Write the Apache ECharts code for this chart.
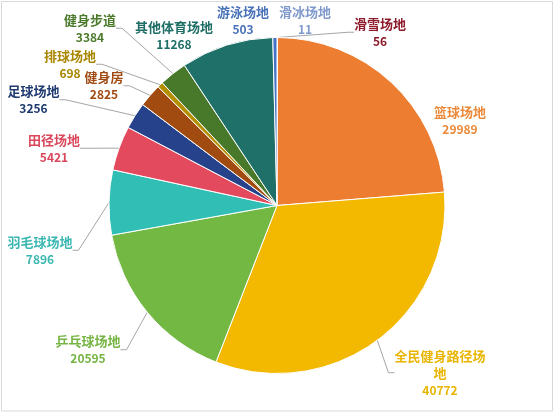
<!DOCTYPE html>
<html>
<head>
<meta charset="utf-8">
<script src="https://cdn.jsdelivr.net/npm/echarts@6/dist/echarts.min.js"></script>
<style>html,body{margin:0;padding:0;background:#fff;}#c{width:555px;height:414px;}</style>
</head>
<body>
<div id="c"></div>
<script>
// ---- data ----
var names = ['滑冰场地','滑雪场地','篮球场地','全民健身路径场地','乒乓球场地','羽毛球场地','田径场地','足球场地','健身房','排球场地','健身步道','其他体育场地','游泳场地'];
var values = [11, 56, 29989, 40772, 20595, 7896, 5421, 3256, 2825, 698, 3384, 11268, 503];

// ---- styling / layout (not data) ----
var sliceColors = ['#5B9BD5','#A5002A','#ED7D31','#F2B900','#74B844','#31BFB5','#E34A5E','#26428B','#A14B10','#B38F00','#48782A','#1E7068','#4472C4'];
var labelColors = ['#7F9ACB','#8E1B2C','#EB8A3A','#E9B500','#76B443','#3BB7B2','#D9485D','#1F3A70','#A04A12','#A88600','#4B7A2A','#1E6E66','#4A72B8'];
var labelPos = [[305,20.5],[380,32.5],[460,121],[440,373],[88,350],[40,250.5],[54,148.5],[33.5,100],[104,86],[70,64.5],[90,28.5],[174,35.5],[243,20.5]];
var showLine = [false,true,false,true,true,true,true,true,true,true,true,false,false];

var data = names.map(function(n, i){
  return {
    name: n,
    value: values[i],
    itemStyle: {color: sliceColors[i]},
    label: {
      rich: {
        n: {color: labelColors[i], fontSize: 13, fontWeight: 'bold', lineHeight: 17, fontFamily: 'Noto Sans CJK SC'},
        v: {color: labelColors[i], fontSize: 12, fontWeight: 'bold', lineHeight: 17, fontFamily: 'Noto Sans CJK SC'}
      }
    },
    labelLine: {show: showLine[i]}
  };
});

var chart = echarts.init(document.getElementById('c'), null, {renderer: 'canvas'});
chart.setOption({
  backgroundColor: '#fff',
  animation: false,
  graphic: [{
    type: 'rect', shape: {x: 1.5, y: 1.5, width: 551, height: 409.5},
    style: {fill: 'none', stroke: '#D9D9D9', lineWidth: 1}, silent: true, z: -1
  }],
  series: [{
    type: 'pie',
    center: [277, 205.5],
    radius: 168,
    startAngle: 90,
    clockwise: true,
    avoidLabelOverlap: false,
    minShowLabelAngle: 0,
    itemStyle: {borderColor: '#fff', borderWidth: 1},
    label: {
      show: true,
      position: 'outside',
      align: 'center',
      padding: [2, 4],
      formatter: function(p){
        var n = p.name.length > 7 ? p.name.slice(0,7) + '\n' + p.name.slice(7) : p.name;
        return '{n|' + n.split('\n').join('}\n{n|') + '}\n{v|' + p.value + '}';
      }
    },
    labelLine: {
      show: true, length: 10, length2: 6, smooth: false,
      lineStyle: {color: '#A6A6A6', width: 1}
    },
    labelLayout: function(params){
      var pos = labelPos[params.dataIndex];
      return {x: pos[0], y: pos[1], align: 'center', verticalAlign: 'middle', hideOverlap: false};
    },
    data: data
  }]
});
</script>
</body>
</html>
